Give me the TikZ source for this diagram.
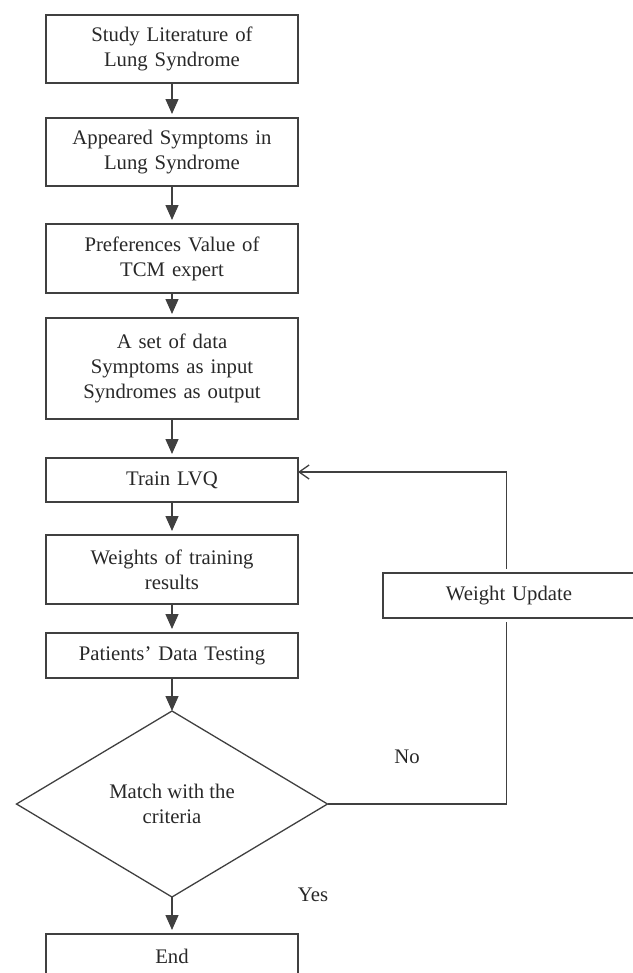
\documentclass[tikz,border=0pt]{standalone}
\usepackage{fontspec}
\setmainfont{Liberation Serif}
\usetikzlibrary{arrows.meta,positioning,shapes.geometric}
\definecolor{LineGray}{RGB}{64,64,64}
\definecolor{TextGray}{RGB}{40,40,40}
\newcommand\flowfont{\fontsize{20.8}{25}\selectfont}
\tikzset{
  stepbox/.style={draw=LineGray,line width=1.3bp,minimum width=252bp,
    text width=244bp,align=center,inner sep=0pt,outer sep=0pt,
    font=\flowfont,text=TextGray},
  check/.style={diamond,draw=LineGray,line width=1.3bp,minimum width=311bp,
    minimum height=186bp,inner sep=0pt,outer sep=0pt,align=center,
    font=\flowfont,text=TextGray},
  lbl/.style={font=\flowfont,text=TextGray,inner sep=0pt},
  arrow/.style={-{Triangle[length=15bp,width=13bp]},line width=1.3bp,LineGray,
    shorten >=4bp},
  line/.style={line width=1.3bp,LineGray},
  back/.style={-{Straight Barb[length=10bp,width=14bp]},line width=1.3bp,LineGray}
}
\begin{document}
\begin{tikzpicture}[node distance=35bp]
      \useasboundingbox (0,0) rectangle (633bp,-973bp);
      \node[stepbox,minimum height=68bp] (lit) at (172bp,-49bp)
        {Study Literature of\\Lung Syndrome};
      \node[stepbox,minimum height=68bp,below=35bp of lit] (symptoms)
        {Appeared Symptoms in\\Lung Syndrome};
      \node[stepbox,minimum height=69bp,below=38bp of symptoms] (pref)
        {Preferences Value of\\TCM expert};
      \node[stepbox,minimum height=101bp,below=25bp of pref] (dataset)
        {A set of data\\Symptoms as input\\Syndromes as output};
      \node[stepbox,minimum height=44bp,below=39bp of dataset] (train) {Train LVQ};
      \node[stepbox,minimum height=69bp,below=33bp of train] (weights)
        {Weights of training\\results};
      \node[stepbox,minimum height=45bp,below=29bp of weights] (testing)
        {Patients' Data Testing};
      \node[check,below=33bp of testing] (match) {Match with the\\criteria};
      \node[stepbox,minimum height=44bp,below=37bp of match] (stop) {End};
      \node[stepbox,minimum height=45bp] (update) at (509bp,-595.5bp) {Weight Update};
      \node[lbl] (no) at (407bp,-757bp) {No};
      \node[lbl] (yes) at (313bp,-895bp) {Yes};
      \path (match.east) ++(179bp,0) coordinate (turn);

      \draw[arrow] (lit) -- (symptoms);
      \draw[arrow] (symptoms) -- (pref);
      \draw[arrow] (pref) -- (dataset);
      \draw[arrow] (dataset) -- (train);
      \draw[arrow] (train) -- (weights);
      \draw[arrow] (weights) -- (testing);
      \draw[arrow,shorten >=0bp] (testing) -- (match);
      \draw[arrow] (match) -- (stop);
      \draw[line] (match.east) -- (turn) -- ([yshift=-4bp]turn |- update.south);
      \draw[back] ([yshift=4bp]turn |- update.north) |- ([yshift=8bp]train.east);
    \end{tikzpicture}
\end{document}
